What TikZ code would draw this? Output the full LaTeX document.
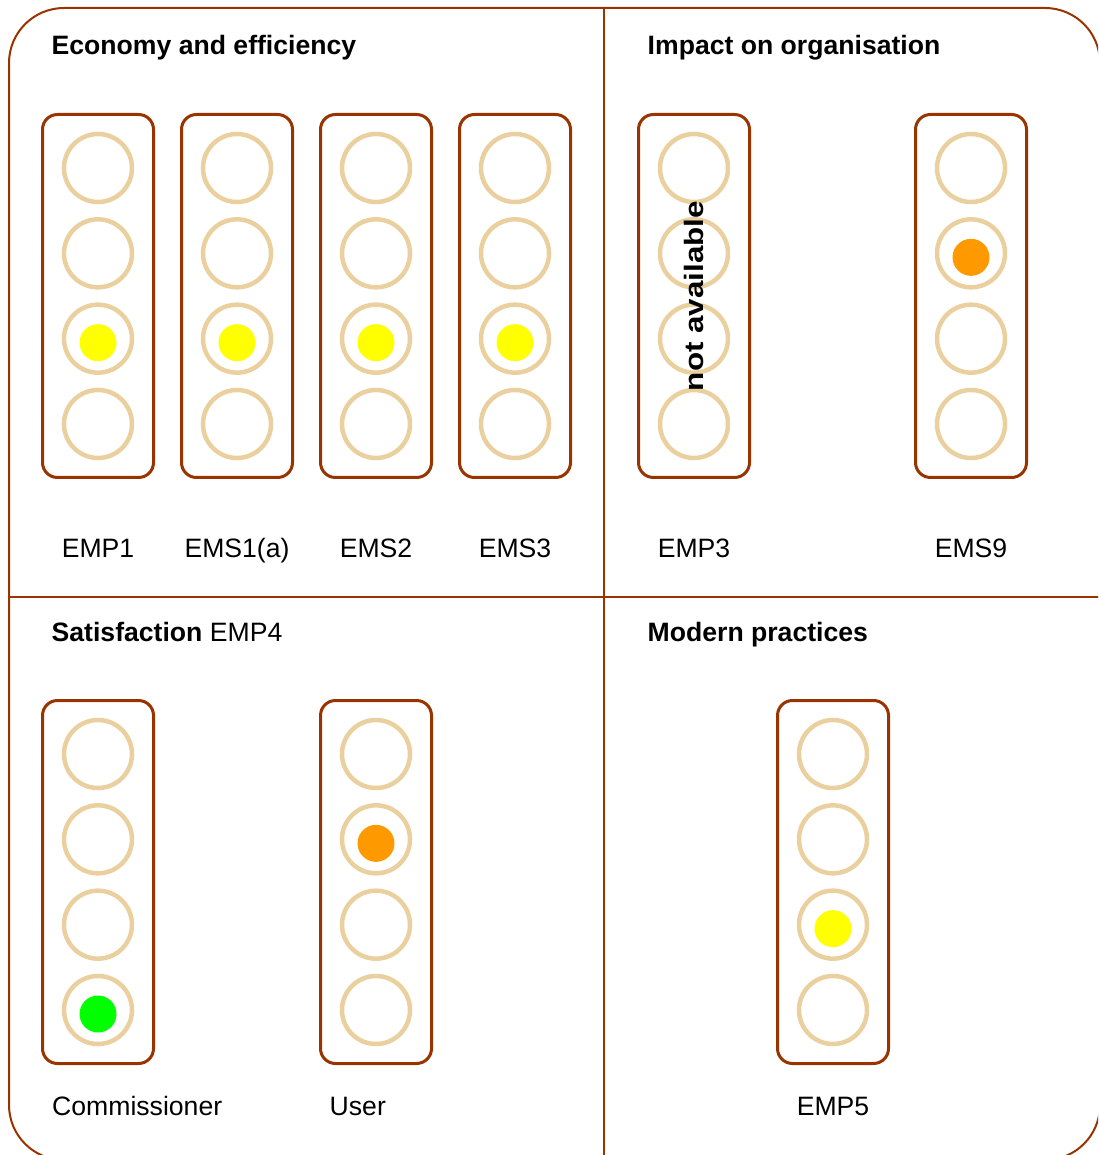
\documentclass[tikz,border=0pt]{standalone}
\usepackage{fontspec}
\setmainfont{Liberation Sans}
\usepackage{xcolor}
\usepackage[]{tikz}
\usetikzlibrary{positioning,fit,calc}
\definecolor{frameBrown}{HTML}{993300}
\definecolor{ringTan}{HTML}{EBD09F}
\definecolor{lampYellow}{HTML}{FFFF00}
\definecolor{lampOrange}{HTML}{FF9900}
\definecolor{lampGreen}{HTML}{00FF00}
\newcommand{\labelfont}{\fontsize{26.6}{31}\selectfont}
\tikzstyle{lamp}    =[circle,draw=ringTan,line width=4.5pt,minimum size=68pt,inner sep=0pt]
\tikzstyle{lit}     =[circle,minimum size=37pt,inner sep=0pt]
\tikzstyle{lightbox}=[draw=frameBrown,line width=3pt,rounded corners=15pt,
                      inner xsep=19.25pt,inner ysep=17.25pt]
\tikzstyle{caption} =[anchor=base,inner sep=0pt,font=\labelfont]
\tikzstyle{heading} =[anchor=base west,inner sep=0pt,font=\labelfont\bfseries]

\begin{document}
\begin{tikzpicture}[x=1pt,y=-1pt,node distance=12.83pt]
      \useasboundingbox (0,0) rectangle (1098,1155);
      \clip (0,0) rectangle (1098,1155);
      % frame and quadrants
      \draw[frameBrown,line width=2pt,rounded corners=55pt] (9,8) rectangle (1100,1160);
      \draw[frameBrown,line width=2pt] (604,8) -- (604,1160);
      \draw[frameBrown,line width=2pt] (9,597) -- (1100,597);
      \node[heading] (hd-economy) at (51.5,55) {Economy and efficiency};
      \node[heading] (hd-impact) at (647.5,55) {Impact on organisation};
      \node[heading] (hd-satisf) at (51.5,641) {Satisfaction \mdseries EMP4};
      \node[heading] (hd-modern) at (647.5,641) {Modern practices};
      % EMP1
      \node[lamp] (emp1-1) at (98,168) {};
      \node[lamp] (emp1-2) [below = of emp1-1] {};
      \node[lamp] (emp1-3) [below = of emp1-2] {};
      \node[lamp] (emp1-4) [below = of emp1-3] {};
      \node[lightbox,fit=(emp1-1)(emp1-4)] (emp1) {};
      \node[lit,fill=lampYellow] (emp1-on) at ([yshift=-4pt]emp1-3) {};
      \node[caption] (emp1-lbl) at (98,557) {EMP1};
      % EMS1(a)
      \node[lamp] (ems1-1) at (237,168) {};
      \node[lamp] (ems1-2) [below = of ems1-1] {};
      \node[lamp] (ems1-3) [below = of ems1-2] {};
      \node[lamp] (ems1-4) [below = of ems1-3] {};
      \node[lightbox,fit=(ems1-1)(ems1-4)] (ems1) {};
      \node[lit,fill=lampYellow] (ems1-on) at ([yshift=-4pt]ems1-3) {};
      \node[caption] (ems1-lbl) at (237,557) {EMS1(a)};
      % EMS2
      \node[lamp] (ems2-1) at (376,168) {};
      \node[lamp] (ems2-2) [below = of ems2-1] {};
      \node[lamp] (ems2-3) [below = of ems2-2] {};
      \node[lamp] (ems2-4) [below = of ems2-3] {};
      \node[lightbox,fit=(ems2-1)(ems2-4)] (ems2) {};
      \node[lit,fill=lampYellow] (ems2-on) at ([yshift=-4pt]ems2-3) {};
      \node[caption] (ems2-lbl) at (376,557) {EMS2};
      % EMS3
      \node[lamp] (ems3-1) at (515,168) {};
      \node[lamp] (ems3-2) [below = of ems3-1] {};
      \node[lamp] (ems3-3) [below = of ems3-2] {};
      \node[lamp] (ems3-4) [below = of ems3-3] {};
      \node[lightbox,fit=(ems3-1)(ems3-4)] (ems3) {};
      \node[lit,fill=lampYellow] (ems3-on) at ([yshift=-4pt]ems3-3) {};
      \node[caption] (ems3-lbl) at (515,557) {EMS3};
      % EMP3
      \node[lamp] (emp3-1) at (694,168) {};
      \node[lamp] (emp3-2) [below = of emp3-1] {};
      \node[lamp] (emp3-3) [below = of emp3-2] {};
      \node[lamp] (emp3-4) [below = of emp3-3] {};
      \node[lightbox,fit=(emp3-1)(emp3-4)] (emp3) {};
      \node[rotate=90,xscale=1.18,inner sep=0pt,font=\labelfont\bfseries] (emp3-na) at (emp3) {not available};
      \node[caption] (emp3-lbl) at (694,557) {EMP3};
      % EMS9
      \node[lamp] (ems9-1) at (971,168) {};
      \node[lamp] (ems9-2) [below = of ems9-1] {};
      \node[lamp] (ems9-3) [below = of ems9-2] {};
      \node[lamp] (ems9-4) [below = of ems9-3] {};
      \node[lightbox,fit=(ems9-1)(ems9-4)] (ems9) {};
      \node[lit,fill=lampOrange] (ems9-on) at ([yshift=-4pt]ems9-2) {};
      \node[caption] (ems9-lbl) at (971,557) {EMS9};
      % Commissioner
      \node[lamp] (comm-1) at (98,754) {};
      \node[lamp] (comm-2) [below = of comm-1] {};
      \node[lamp] (comm-3) [below = of comm-2] {};
      \node[lamp] (comm-4) [below = of comm-3] {};
      \node[lightbox,fit=(comm-1)(comm-4)] (comm) {};
      \node[lit,fill=lampGreen] (comm-on) at ([yshift=-4pt]comm-4) {};
      \node[caption,anchor=base west] (comm-lbl) at (52,1115) {Commissioner};
      % User
      \node[lamp] (user-1) at (376,754) {};
      \node[lamp] (user-2) [below = of user-1] {};
      \node[lamp] (user-3) [below = of user-2] {};
      \node[lamp] (user-4) [below = of user-3] {};
      \node[lightbox,fit=(user-1)(user-4)] (user) {};
      \node[lit,fill=lampOrange] (user-on) at ([yshift=-4pt]user-2) {};
      \node[caption,anchor=base west] (user-lbl) at (329.5,1115) {User};
      % EMP5
      \node[lamp] (emp5-1) at (833,754) {};
      \node[lamp] (emp5-2) [below = of emp5-1] {};
      \node[lamp] (emp5-3) [below = of emp5-2] {};
      \node[lamp] (emp5-4) [below = of emp5-3] {};
      \node[lightbox,fit=(emp5-1)(emp5-4)] (emp5) {};
      \node[lit,fill=lampYellow] (emp5-on) at ([yshift=-4pt]emp5-3) {};
      \node[caption] (emp5-lbl) at (833,1115) {EMP5};
\end{tikzpicture}
\end{document}
